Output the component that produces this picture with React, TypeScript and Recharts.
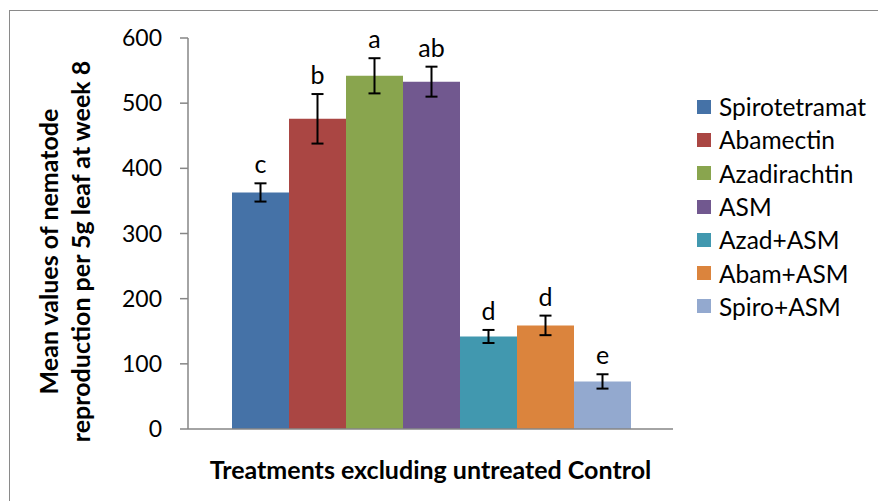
import { BarChart, Bar, XAxis, YAxis, ErrorBar } from 'recharts';

// Nematode reproduction per 5 g leaf at week 8, one bar per treatment
const treatments = ['Spirotetramat', 'Abamectin', 'Azadirachtin', 'ASM', 'Azad+ASM', 'Abam+ASM', 'Spiro+ASM'];
const means = [363, 476, 542, 533, 142, 159, 73];
const errors = [14, 38, 27, 23, 10, 15, 11];
const letters = ['c', 'b', 'a', 'ab', 'd', 'd', 'e'];
const colors = ['#4572A7', '#AA4643', '#89A54E', '#71588F', '#4198AF', '#DB843D', '#93A9CF'];
const yTicks = [0, 100, 200, 300, 400, 500, 600];

const FONT = 'Lato, "Open Sans", sans-serif';
const AXIS = '#868686';
const titleStyle = { fontFamily: FONT, fontWeight: 700, fontSize: 25, fill: '#000' };

const row: Record<string, number | string> = { group: 'Treatments excluding untreated Control' };
treatments.forEach((_, i) => {
  row[`m${i}`] = means[i];
  row[`e${i}`] = errors[i];
});
const data = [row];

// significance letter sits just above the top whisker of its error bar
const letterLabel = (i: number) => (props: any) => {
  const { x, y, width, height } = props;
  const top = Number(y) - (errors[i] * Number(height)) / means[i];
  return (
    <text x={Number(x) + Number(width) / 2} y={top - 10} textAnchor="middle" fontSize={25} fontFamily={FONT} fill="#000">
      {letters[i]}
    </text>
  );
};

const YTitle = (props: any) => {
  const { viewBox } = props;
  const cy = viewBox.y + viewBox.height / 2 + 18;
  return (
    <g>
      <text x={48} y={cy} transform={`rotate(-90 48 ${cy})`} textAnchor="middle" dominantBaseline="central" style={titleStyle}>
        Mean values of nematode
      </text>
      <text x={80} y={cy} transform={`rotate(-90 80 ${cy})`} textAnchor="middle" dominantBaseline="central" style={titleStyle}>
        reproduction per 5g leaf at week 8
      </text>
    </g>
  );
};

export default function App() {
  return (
    <div style={{ position: 'relative', width: 878, height: 501, overflow: 'hidden', background: '#fff' }}>
      <style>{'body{margin:0}'}</style>
      <div style={{ position: 'absolute', left: 9, top: 10, width: 900, height: 520, border: '1.5px solid #8a8a8a' }} />
      <BarChart
        width={878}
        height={501}
        data={data}
        margin={{ top: 38, right: 205, bottom: 22, left: 128 }}
        barCategoryGap={44}
        barGap={0}
        style={{ position: 'absolute', left: 0, top: 0 }}
      >
        {/* the single category carries the bars; its axis is drawn by the edge axis below */}
        <XAxis dataKey="group" hide height={0} />
        {/* baseline with tick marks at both ends of the plot, plus the axis title */}
        <XAxis
          xAxisId="edge"
          type="number"
          domain={[0, 1]}
          ticks={[0, 1]}
          height={50}
          tick={false}
          tickSize={8}
          tickLine={{ stroke: AXIS, strokeWidth: 1.5 }}
          axisLine={{ stroke: AXIS, strokeWidth: 1.5 }}
          label={{ value: 'Treatments excluding untreated Control', position: 'insideBottom', offset: 0, style: titleStyle }}
        />
        <YAxis
          domain={[0, 600]}
          ticks={yTicks}
          width={60}
          tickSize={8}
          tickMargin={18}
          interval={0}
          axisLine={{ stroke: AXIS, strokeWidth: 1.5 }}
          tickLine={{ stroke: AXIS, strokeWidth: 1.5 }}
          tick={{ fontFamily: FONT, fontSize: 23, fill: '#000' }}
          label={{ content: YTitle }}
        />
        {treatments.map((t, i) => (
          <Bar key={t} dataKey={`m${i}`} name={t} fill={colors[i]} isAnimationActive={false} label={letterLabel(i)}>
            <ErrorBar dataKey={`e${i}`} width={6} strokeWidth={2} stroke="#000" direction="y" />
          </Bar>
        ))}
      </BarChart>
      <div style={{ position: 'absolute', left: 697, top: 90, fontFamily: FONT, fontSize: 24.5, color: '#000' }}>
        {treatments.map((t, i) => (
          <div key={t} style={{ display: 'flex', alignItems: 'center', height: 33.3 }}>
            <span style={{ width: 14, height: 14, background: colors[i], marginRight: 8, flex: 'none' }} />
            <span>{t}</span>
          </div>
        ))}
      </div>
    </div>
  );
}
